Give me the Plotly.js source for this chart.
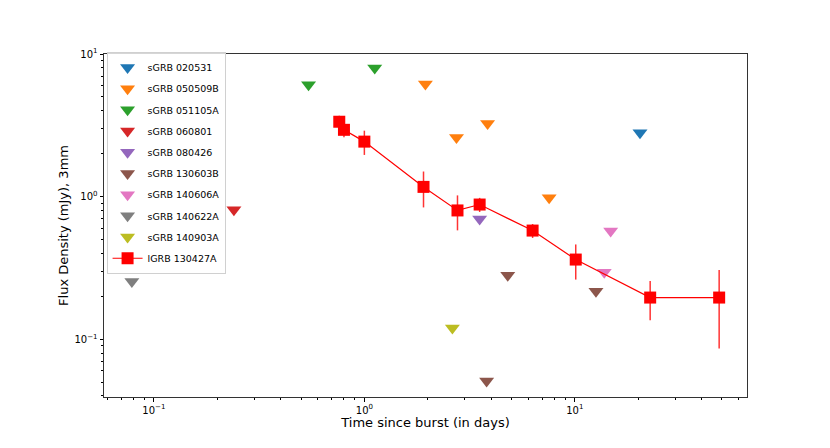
<!DOCTYPE html>
<html>
<head>
<meta charset="utf-8">
<script src="https://cdn.plot.ly/plotly-3.0.1.min.js"></script>
<style>html,body{margin:0;padding:0;background:#fff;}#chart{width:830px;height:448px;}</style>
</head>
<body>
<div id="chart"></div>
<script>
// sGRB upper limits (time in days, flux in mJy)
var sgrbNames = ["sGRB 020531","sGRB 050509B","sGRB 051105A","sGRB 060801","sGRB 080426","sGRB 130603B","sGRB 140606A","sGRB 140622A","sGRB 140903A"];
var sgrbColors = ["#1f77b4","#ff7f0e","#2ca02c","#d62728","#9467bd","#8c564b","#e377c2","#7f7f7f","#bcbd22"];
var sgrbTimes = [
  [20.4],
  [1.95, 2.74, 3.85, 7.55],
  [0.543, 1.12],
  [0.240],
  [3.53],
  [3.81, 4.80, 12.6],
  [13.8, 14.8],
  [0.0786],
  [2.62]
];
var sgrbFlux = [
  [2.81],
  [6.15, 2.60, 3.25, 0.98],
  [6.09, 7.97],
  [0.81],
  [0.698],
  [0.0509, 0.281, 0.217],
  [0.295, 0.575],
  [0.254],
  [0.120]
];

// lGRB 130427A detections
var lgrbName = "lGRB 130427A";
var lgrbTime = [0.76, 0.80, 1.00, 1.91, 2.77, 3.53, 6.3, 10.1, 22.8, 48.5];
var lgrbFlux = [3.35, 2.94, 2.43, 1.17, 0.80, 0.88, 0.578, 0.362, 0.196, 0.196];
var lgrbErr  = [0.34, 0.33, 0.47, 0.33, 0.22, 0.10, 0.065, 0.10, 0.06, 0.11];

var majorX = [0.1, 1, 10];
var majorXText = ["10<sup>\u22121</sup>", "10<sup>0</sup>", "10<sup>1</sup>"];
var majorY = [0.1, 1, 10];
var majorYText = ["10<sup>\u22121</sup>", "10<sup>0</sup>", "10<sup>1</sup>"];

function minorTicks(lo, hi) {
  var out = [];
  for (var e = lo; e <= hi; e++) {
    for (var d = 2; d <= 9; d++) out.push(d * Math.pow(10, e));
  }
  return out;
}

var traces = [];
for (var i = 0; i < sgrbNames.length; i++) {
  traces.push({
    type: 'scatter', mode: 'markers', name: sgrbNames[i], legendgroup: 'g' + i,
    x: sgrbTimes[i], y: sgrbFlux[i],
    marker: {symbol: 'triangle-down', size: 13, color: sgrbColors[i]}
  });
}
traces.push({
  type: 'scatter', mode: 'lines+markers', name: lgrbName, legendgroup: 'lgrb',
  x: lgrbTime, y: lgrbFlux,
  line: {color: 'red', width: 1.2},
  marker: {symbol: 'square', size: 12, color: 'red'},
  error_y: {type: 'data', array: lgrbErr, visible: true, color: 'rgba(255,0,0,0.8)', thickness: 1.5, width: 0}
});

var font = "DejaVu Sans, sans-serif";
var layout = {
  width: 830, height: 448,
  margin: {l: 104, r: 83, t: 54, b: 51},
  paper_bgcolor: '#fff', plot_bgcolor: '#fff',
  showlegend: true,
  font: {family: font, size: 10, color: '#000'},
  xaxis: {
    type: 'log', range: [-1.237, 1.818],
    tickmode: 'array', tickvals: majorX, ticktext: majorXText,
    ticks: 'outside', ticklen: 3.5, tickwidth: 1, tickcolor: '#000',
    showline: true, linecolor: '#333', linewidth: 1, mirror: true,
    showgrid: false, zeroline: false,
    tickfont: {family: font, size: 10, color: '#000'},
    minor: {tickmode: 'array', tickvals: minorTicks(-2, 1), ticks: 'outside', ticklen: 2, tickcolor: '#000', showgrid: false},
    title: {text: 'Time since burst (in days)', font: {family: font, size: 13, color: '#000'}, standoff: 0}
  },
  yaxis: {
    type: 'log', range: [-1.405, 1.0],
    tickmode: 'array', tickvals: majorY, ticktext: majorYText,
    ticks: 'outside', ticklen: 3.5, tickwidth: 1, tickcolor: '#000',
    showline: true, linecolor: '#333', linewidth: 1, mirror: true,
    showgrid: false, zeroline: false,
    tickfont: {family: font, size: 10, color: '#000'},
    minor: {tickmode: 'array', tickvals: minorTicks(-2, 0), ticks: 'outside', ticklen: 2, tickcolor: '#000', showgrid: false},
    title: {text: 'Flux Density (mJy), 3mm', font: {family: font, size: 13, color: '#000'}, standoff: 2}
  },
  legend: {
    x: 0.004, y: 1.006, xanchor: 'left', yanchor: 'top',
    bgcolor: 'rgba(255,255,255,0.8)', bordercolor: '#d0d0d0', borderwidth: 1,
    font: {family: font, size: 9.5, color: '#000'},
    traceorder: 'grouped', tracegroupgap: 2.2
  }
};

Plotly.newPlot('chart', traces, layout, {displayModeBar: false, staticPlot: true});
</script>
</body>
</html>
